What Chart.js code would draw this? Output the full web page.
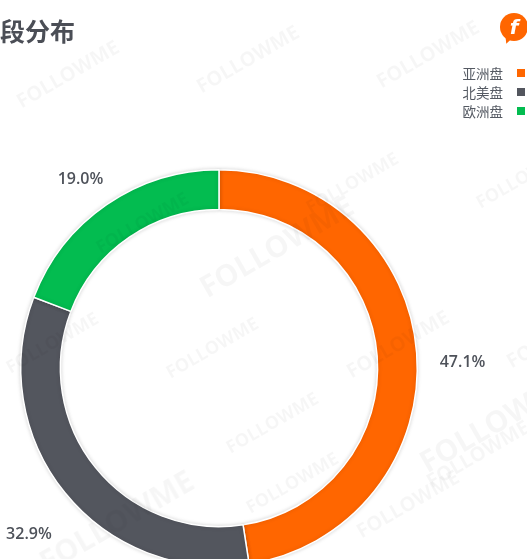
<!DOCTYPE html>
<html>
<head>
<meta charset="utf-8">
<script src="https://cdn.jsdelivr.net/npm/chart.js@4.4.1/dist/chart.umd.min.js"></script>
<style>
  html, body { margin:0; padding:0; background:#fff; width:527px; height:559px; overflow:hidden; position:relative; }
  #title { position:absolute; left:0; top:13px; font-family:"Noto Sans CJK SC"; font-weight:700; font-size:25px; color:#4b4e56; line-height:34px; }
  #logo { position:absolute; left:500px; top:13px; width:28px; height:28px; border-radius:50%; background:#ff6600; color:#fff; font-family:"DejaVu Sans"; font-weight:700; font-style:italic; font-size:20px; line-height:28px; text-align:center; }
  #logo::after { content:""; position:absolute; left:3px; top:21px; width:0; height:0; border-left:5px solid transparent; border-right:5px solid transparent; border-top:10px solid #ff6600; transform:rotate(20deg); }
  #legend { position:absolute; right:2px; top:63px; font-family:"Noto Sans CJK SC"; font-size:13.5px; color:#555a63; }
  .row { display:flex; align-items:center; justify-content:flex-end; height:19px; }
  .box { width:8px; height:8px; margin-left:14px; }
  .wm { position:absolute; font-family:"Open Sans"; font-weight:700; color:rgba(0,0,0,0.035); transform:rotate(-30deg); white-space:nowrap; }
  canvas { position:absolute; left:0; top:0; }
</style>
</head>
<body>
<canvas id="c" width="527" height="620"></canvas>
<div id="title">段分布</div>
<div id="logo">f</div>
<div id="legend"></div>
<script>
const categories = ['亚洲盘', '北美盘', '欧洲盘'];
const values = [47.1, 32.9, 19.0];
const colors = ['#ff6600', '#53565e', '#03bc50'];
const watermarkText = 'FOLLOWME';

// legend
const lg = document.getElementById('legend');
categories.forEach((c, i) => {
  const r = document.createElement('div'); r.className = 'row';
  const t = document.createElement('span'); t.textContent = c;
  const b = document.createElement('span'); b.className = 'box'; b.style.background = colors[i];
  r.appendChild(t); r.appendChild(b); lg.appendChild(r);
});

// watermarks
[[10,60,20],[190,45,20],[370,40,20],[300,170,18],[470,165,18],[190,225,30],[90,210,18],[340,330,20],[160,335,18],[500,320,20],[0,330,18],[220,410,18],[410,400,30],[420,440,20],[30,500,30],[240,470,18],[350,490,20]].forEach(([x,y,s]) => {
  const d = document.createElement('div'); d.className = 'wm';
  d.style.left = x + 'px'; d.style.top = y + 'px'; d.style.fontSize = s + 'px';
  d.textContent = watermarkText; document.body.appendChild(d);
});

const shadowPlugin = {
  id: 'ringShadow',
  beforeDatasetsDraw(chart) {
    const ctx = chart.ctx;
    ctx.save();
    ctx.shadowColor = 'rgba(0,0,0,0.16)';
    ctx.shadowBlur = 4;
  },
  afterDatasetsDraw(chart) {
    chart.ctx.restore();
  }
};

const labelPlugin = {
  id: 'outLabels',
  afterDatasetsDraw(chart) {
    const ctx = chart.ctx;
    const meta = chart.getDatasetMeta(0);
    ctx.save();
    ctx.font = '600 16px "Open Sans"';
    ctx.fillStyle = '#4e525a';
    ctx.textAlign = 'center';
    ctx.textBaseline = 'middle';
    meta.data.forEach((el, i) => {
      const mid = (el.startAngle + el.endAngle) / 2;
      const r = el.outerRadius + 46;
      ctx.fillText(values[i].toFixed(1) + '%', el.x + Math.cos(mid) * r, el.y + Math.sin(mid) * r + 13);
    });
    ctx.restore();
  }
};

new Chart(document.getElementById('c'), {
  type: 'doughnut',
  data: {
    labels: categories,
    datasets: [{ data: values, backgroundColor: colors, borderColor: '#ffffff', borderWidth: 1.5, hoverOffset: 0 }]
  },
  options: {
    responsive: false,
    animation: false,
    cutout: '80%',
    layout: { padding: { left: 20, top: 169, right: 109, bottom: 53 } },
    plugins: { legend: { display: false }, tooltip: { enabled: false } }
  },
  plugins: [shadowPlugin, labelPlugin]
});
</script>
</body>
</html>
